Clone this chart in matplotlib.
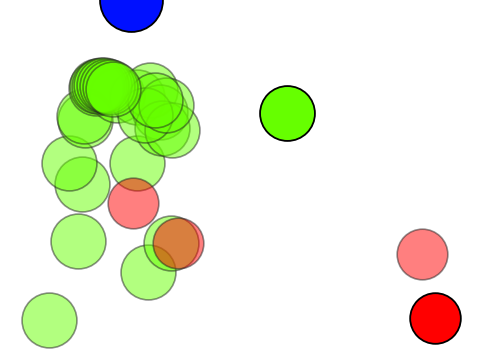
import matplotlib
matplotlib.use('Agg')
import matplotlib.pyplot as plt

# values (x right, y down)
faded_green_x = [49, 78, 148, 171, 82, 69, 137,
                 85, 84, 117, 137, 150, 160, 162, 172, 145, 166, 155,
                 96, 97, 99, 101, 104, 107, 110, 113]
faded_green_y = [320, 241, 272, 243, 184, 163, 163,
                 120, 116, 95, 97, 90, 112, 128, 130, 115, 105, 100,
                 88, 86, 86, 85, 85, 86, 87, 89]
faded_red_x = [133, 178, 422]
faded_red_y = [203, 243, 254]

solid_green_x = [287]
solid_green_y = [113]
solid_red_x = [435]
solid_red_y = [318]
solid_blue_x = [131]
solid_blue_y = [0]

green = '#66ff00'


def main():
    fig = plt.figure(figsize=(4.8, 3.6), dpi=100)
    ax = fig.add_axes([0, 0, 1, 1])

    ax.scatter(faded_green_x, faded_green_y, s=1560, c=green, alpha=0.5,
               edgecolors='#222222', linewidths=1.2)
    ax.scatter(faded_red_x, faded_red_y, s=1330, c='red', alpha=0.5,
               edgecolors='#222222', linewidths=1.2)
    ax.scatter(solid_green_x, solid_green_y, s=1560, c=green,
               edgecolors='black', linewidths=1.3)
    ax.scatter(solid_red_x, solid_red_y, s=1330, c='red',
               edgecolors='black', linewidths=1.3)
    ax.scatter(solid_blue_x, solid_blue_y, s=2050, c='#0010ff',
               edgecolors='black', linewidths=1.3)

    ax.set_xlim(0, 480)
    ax.set_ylim(360, 0)
    ax.axis('off')
    fig.savefig('out.png', dpi=100)


main()
